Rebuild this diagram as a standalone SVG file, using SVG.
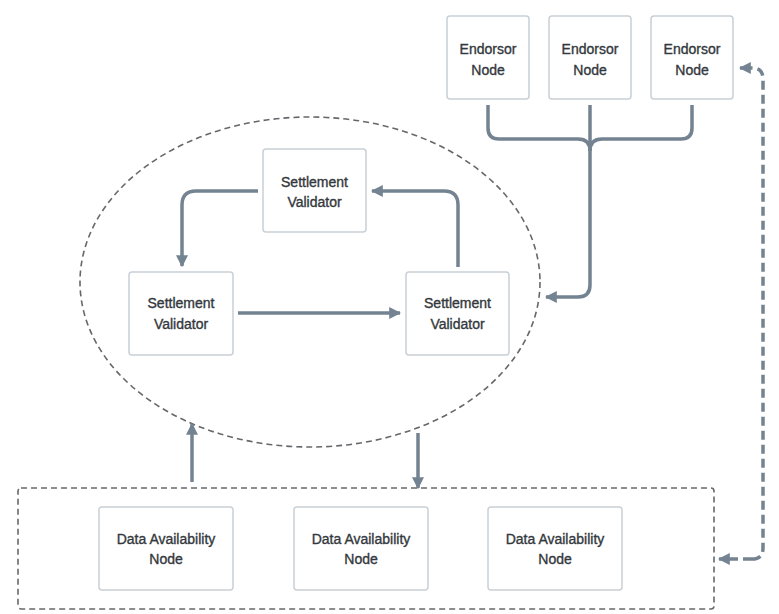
<svg xmlns="http://www.w3.org/2000/svg" width="779" height="614" viewBox="0 0 779 614">
<style>
.node rect{fill:#ffffff;stroke:#c9d0d6;stroke-width:1.5}
.node text{font-family:"Liberation Sans",Arial,sans-serif;font-size:14px;fill:#33383d;stroke:#33383d;stroke-width:0.35;text-anchor:middle}
.conn{fill:none;stroke:#748391;stroke-width:3.5}
.dash{fill:none;stroke:#65686b;stroke-width:1.6;stroke-dasharray:6 4}
.ddash{fill:none;stroke:#748391;stroke-width:3.5;stroke-dasharray:9 5}
</style>
<defs>
<marker id="ah" viewBox="0 0 10 10" refX="9" refY="5" markerWidth="12" markerHeight="12" markerUnits="userSpaceOnUse" orient="auto">
<path d="M0,0 L10,5 L0,10 Z" fill="#748391"/>
</marker>
</defs>
<rect width="779" height="614" fill="#ffffff"/>
<g id="groups">
<ellipse class="dash" cx="310" cy="282" rx="230" ry="165"/>
<rect class="dash" x="18" y="488" width="696" height="121" rx="3"/>
</g>
<g id="connectors">
<path class="conn" d="M488 105 V128 Q488 139 499 139 H578 Q590 139 590 151"/>
<path class="conn" d="M692 105 V128 Q692 139 681 139 H602 Q590 139 590 151"/>
<path class="conn" d="M590 105 V285 Q590 297 578 297 H546" marker-end="url(#ah)"/>
<path class="conn" d="M258 191 H196 Q182 191 182 205 V266" marker-end="url(#ah)"/>
<path class="conn" d="M458 267 V205 Q458 191 444 191 H372" marker-end="url(#ah)"/>
<path class="conn" d="M238 313 H400" marker-end="url(#ah)"/>
<path class="conn" d="M192 482 V424" marker-end="url(#ah)"/>
<path class="conn" d="M418 433 V488" marker-end="url(#ah)"/>
<path class="ddash" d="M752 559 Q763 559 763 548 V79 Q763 68 752 68"/>
<path class="conn" d="M752 68 H740" marker-end="url(#ah)"/>
<path class="conn" d="M752 559 H719" stroke-dasharray="9 5" marker-end="url(#ah)"/>
</g>
<g id="endorsor1" class="node"><rect x="447" y="16" width="82" height="83" rx="3"/><text x="488" y="54">Endorsor</text><text x="488" y="75">Node</text></g>
<g id="endorsor2" class="node"><rect x="549" y="16" width="82" height="83" rx="3"/><text x="590" y="54">Endorsor</text><text x="590" y="75">Node</text></g>
<g id="endorsor3" class="node"><rect x="651" y="16" width="82" height="83" rx="3"/><text x="692" y="54">Endorsor</text><text x="692" y="75">Node</text></g>
<g id="validator-top" class="node"><rect x="263" y="149" width="103" height="83" rx="3"/><text x="314.5" y="187">Settlement</text><text x="314.5" y="207">Validator</text></g>
<g id="validator-left" class="node"><rect x="129" y="272" width="104" height="83" rx="3"/><text x="181" y="308">Settlement</text><text x="181" y="329">Validator</text></g>
<g id="validator-right" class="node"><rect x="406" y="272" width="103" height="83" rx="3"/><text x="457.5" y="308">Settlement</text><text x="457.5" y="329">Validator</text></g>
<g id="da1" class="node"><rect x="99" y="507" width="134" height="83" rx="3"/><text x="166" y="544">Data Availability</text><text x="166" y="564">Node</text></g>
<g id="da2" class="node"><rect x="294" y="507" width="134" height="83" rx="3"/><text x="361" y="544">Data Availability</text><text x="361" y="564">Node</text></g>
<g id="da3" class="node"><rect x="488" y="507" width="134" height="83" rx="3"/><text x="555" y="544">Data Availability</text><text x="555" y="564">Node</text></g>
</svg>
